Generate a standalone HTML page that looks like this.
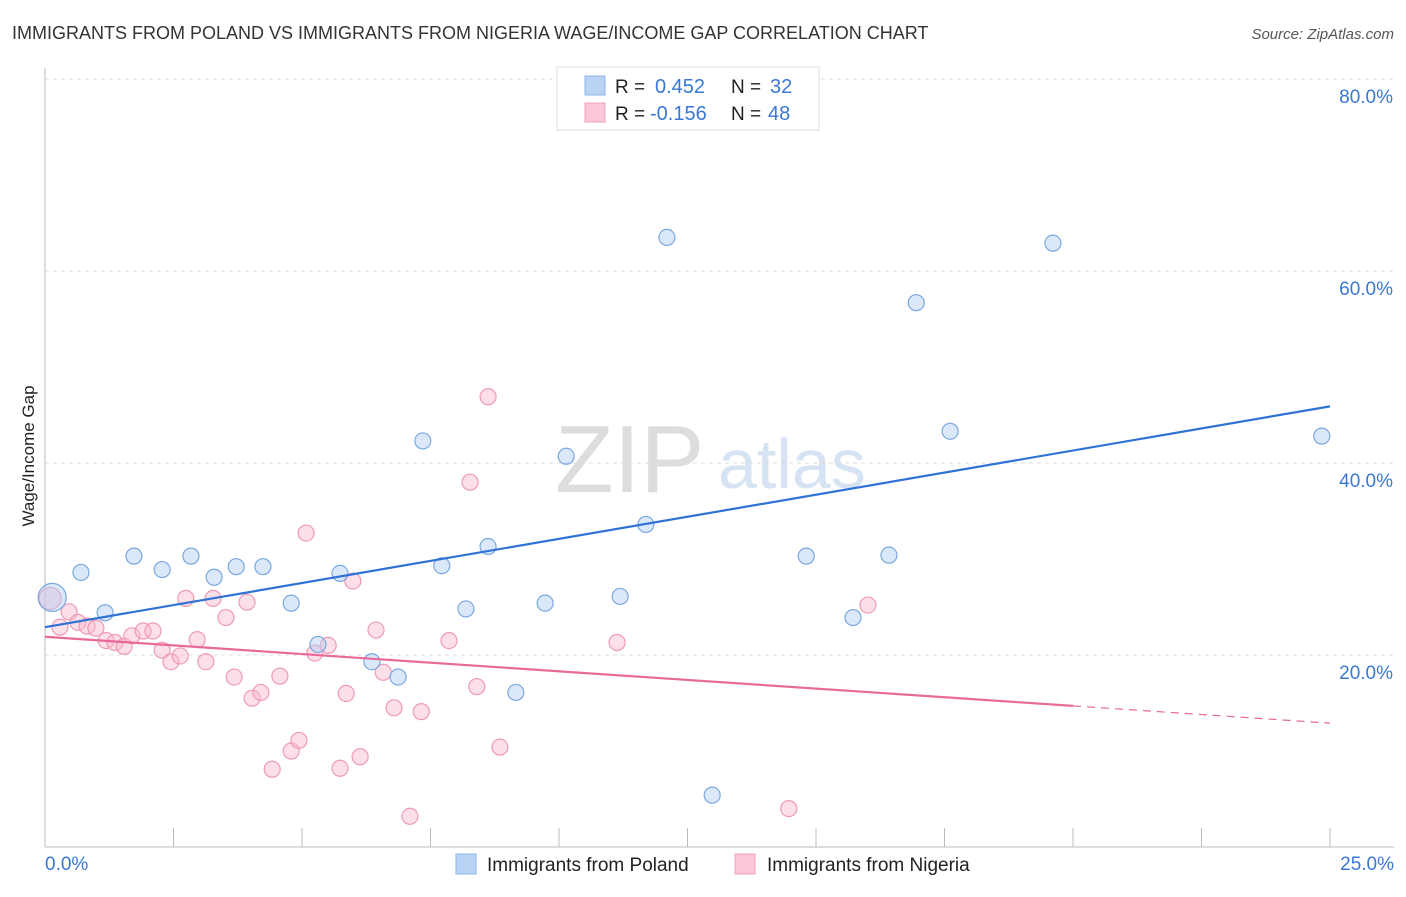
<!DOCTYPE html>
<html><head><meta charset="utf-8"><style>
body{margin:0;background:#fff;font-family:"Liberation Sans",sans-serif;}
svg text{font-family:"Liberation Sans",sans-serif;}
</style></head><body>
<svg id="chart" width="1406" height="892">
<text x="12" y="39" font-size="18" fill="#333">IMMIGRANTS FROM POLAND VS IMMIGRANTS FROM NIGERIA WAGE/INCOME GAP CORRELATION CHART</text>
<text x="1394" y="39" font-size="15" fill="#555" font-style="italic" text-anchor="end">Source: ZipAtlas.com</text>
<text transform="translate(34,456) rotate(-90)" font-size="17" fill="#222" text-anchor="middle">Wage/Income Gap</text>
<text x="555" y="492" font-size="96" fill="#ddd" font-family="Liberation Serif">ZIP</text>
<text x="718" y="488" font-size="70" fill="#d6e3f3">atlas</text>
<g id="grid"></g><g id="axes"></g><g id="marks"></g>
<g>
<rect x="557" y="67" width="262" height="63" fill="#fff" stroke="#ddd"/>
<rect x="585" y="76" width="20" height="19" fill="#b9d3f5" stroke="#8fb4e6"/>
<rect x="585" y="103" width="20" height="19" fill="#fcc8d8" stroke="#f0a0ba"/>
<text x="615" y="93" font-size="19" fill="#222">R = </text><text x="655" y="93" font-size="20" fill="#3a78d4">0.452</text>
<text x="731" y="93" font-size="19" fill="#222">N = </text><text x="770" y="93" font-size="20" fill="#3a78d4">32</text>
<text x="615" y="120" font-size="19" fill="#222">R = </text><text x="650" y="120" font-size="20" fill="#3a78d4">-0.156</text>
<text x="731" y="120" font-size="19" fill="#222">N = </text><text x="768" y="120" font-size="20" fill="#3a78d4">48</text>
</g>
<g>
<rect x="456" y="854" width="20" height="20" fill="#b9d3f5" stroke="#8fb4e6"/>
<text x="487" y="871" font-size="19" fill="#222">Immigrants from Poland</text>
<rect x="735" y="854" width="20" height="20" fill="#fcc8d8" stroke="#f0a0ba"/>
<text x="767" y="871" font-size="19" fill="#222">Immigrants from Nigeria</text>
</g>
</svg>
<script>
const yTicks=[20,40,60,80];
const yTickLabels=["20.0%","40.0%","60.0%","80.0%"];
const polandX=[0.14,0.70,1.17,1.73,2.28,2.84,3.29,3.72,4.24,4.79,5.31,5.74,6.36,6.87,7.35,7.72,8.19,8.62,9.16,9.73,10.14,11.19,11.69,12.10,12.98,14.81,15.72,16.42,16.95,17.61,19.61,24.84];
const polandY=[26.0,28.6,24.4,30.3,28.9,30.3,28.1,29.2,29.2,25.4,21.1,28.5,19.3,17.7,42.3,29.3,24.8,31.3,16.1,25.4,40.7,26.1,33.6,63.5,5.4,30.3,23.9,30.4,56.7,43.3,62.9,42.8];
const nigeriaX=[0.10,0.29,0.47,0.64,0.82,0.99,1.19,1.36,1.54,1.69,1.91,2.10,2.28,2.45,2.63,2.74,2.96,3.13,3.27,3.52,3.68,3.93,4.03,4.20,4.42,4.57,4.79,4.94,5.08,5.25,5.51,5.74,5.86,5.99,6.13,6.44,6.58,6.79,7.10,7.32,7.86,8.27,8.40,8.62,8.85,11.13,14.47,16.01];
const nigeriaY=[25.9,22.9,24.5,23.4,23.0,22.8,21.5,21.3,20.9,22.0,22.5,22.5,20.5,19.3,19.9,25.9,21.6,19.3,25.9,23.9,17.7,25.5,15.5,16.1,8.1,17.8,10.0,11.1,32.7,20.2,21.0,8.2,16.0,27.7,9.4,22.6,18.2,14.5,3.2,14.1,21.5,38.0,16.7,46.9,10.4,21.3,4.0,25.2];
const polandTrend=[22.9,45.9];
const nigeriaTrend=[21.9,12.9];
const nigeriaSolidEnd=20;

const X=v=>45+v*51.4, Y=v=>847-v*9.6;
const NS="http://www.w3.org/2000/svg";
function mk(tag,parent,attrs){const e=document.createElementNS(NS,tag);for(const k in attrs)e.setAttribute(k,attrs[k]);document.getElementById(parent).appendChild(e);return e;}
yTicks.forEach((t,i)=>{
 const g=mk('line','grid',{x1:45,x2:1394,y1:Y(t),y2:Y(t),stroke:'#ddd','stroke-dasharray':'4,4'});
 
 
 const l=mk('text','axes',{x:1393,y:Y(t)+24,'font-size':19,fill:'#3a78d4','text-anchor':'end'});
 l.textContent=yTickLabels[i];
 
 
});
const ax=mk('line','axes',{x1:45,x2:1394,y1:847,y2:847,stroke:'#bbb'});


const ay=mk('line','axes',{x1:45,x2:45,y1:68,y2:847,stroke:'#bbb'});


for(let i=1;i<=10;i++){const t=mk('line','axes',{x1:X(i*2.5),x2:X(i*2.5),y1:828,y2:847,stroke:'#bbb'});
 
 }
const x0=mk('text','axes',{x:45,y:870,'font-size':19,fill:'#3a78d4'});x0.textContent='0.0%';


const x1=mk('text','axes',{x:1394,y:870,'font-size':19,fill:'#3a78d4','text-anchor':'end'});x1.textContent='25.0%';



nigeriaX.forEach((x,i)=>{const c=mk('circle','marks',{cx:X(x),cy:Y(nigeriaY[i]),r:i==0?11:8,fill:'rgba(250,185,205,0.45)',stroke:'#ee9ab5','stroke-width':1.2});
 
 });
polandX.forEach((x,i)=>{const c=mk('circle','marks',{cx:X(x),cy:Y(polandY[i]),r:i==0?14:8,fill:'rgba(175,205,245,0.45)',stroke:'#7aa8e0','stroke-width':1.2});
 
 });
const tb=mk('line','marks',{x1:X(0),y1:Y(polandTrend[0]),x2:X(25),y2:Y(polandTrend[1]),stroke:'#2f72d6','stroke-width':2.2});


const ny=x=>nigeriaTrend[0]+(nigeriaTrend[1]-nigeriaTrend[0])*x/25;
const tp=mk('line','marks',{x1:X(0),y1:Y(ny(0)),x2:X(nigeriaSolidEnd),y2:Y(ny(nigeriaSolidEnd)),stroke:'#e8699a','stroke-width':2.2});


const td=mk('line','marks',{x1:X(nigeriaSolidEnd),y1:Y(ny(nigeriaSolidEnd)),x2:X(25),y2:Y(ny(25)),stroke:'#e8699a','stroke-width':1.2,'stroke-dasharray':'8,6'});


</script>
</body></html>
